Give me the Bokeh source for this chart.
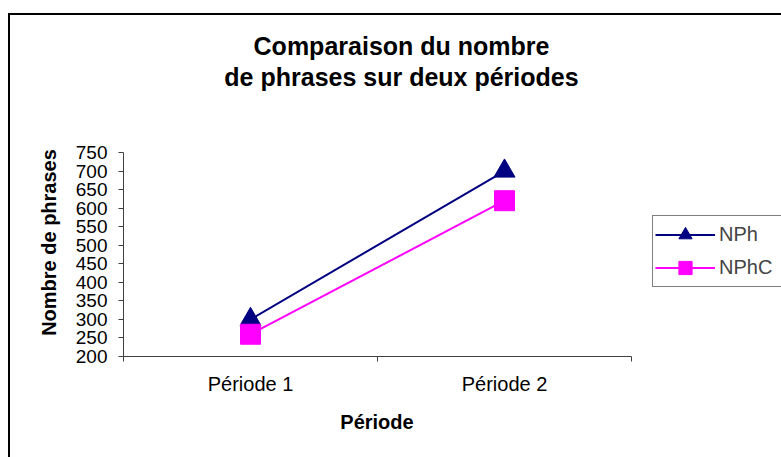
import numpy as np
from bokeh.plotting import figure
from bokeh.models import (Range1d, FixedTicker, Legend, LegendItem, Label,
                          ColumnDataSource, InlineStyleSheet)
from bokeh.embed import file_html
from bokeh.resources import INLINE

# ---- data ----
categories = ["Période 1", "Période 2"]
series_names = ["NPh", "NPhC"]
nph = [300, 700]
nphc = [260, 620]
y_ticks = [200, 250, 300, 350, 400, 450, 500, 550, 600, 650, 700, 750]
title_lines = ["Comparaison du nombre", "de phrases sur deux périodes"]
x_title = "Période"
y_title = "Nombre de phrases"

FONT = "Liberation Sans"
W, H = 781, 457

# plot-area placement on the canvas (pixels)
AX_L, AX_R, AX_T, AX_B = 123, 631, 152, 356
n = len(categories)
ppx = (AX_R - AX_L) / n                                  # px per category
ppy = (AX_B - AX_T) / (y_ticks[-1] - y_ticks[0])         # px per unit
x_range = Range1d(-AX_L / ppx, (W - AX_L) / ppx)
y_range = Range1d(y_ticks[0] - (H - AX_B) / ppy, y_ticks[-1] + AX_T / ppy)

xpos = [i + 0.5 for i in range(n)]
src = ColumnDataSource(dict(x=xpos, nph=nph, nphc=nphc))

p = figure(width=W, height=H, output_backend="svg", toolbar_location=None,
           title=None, x_range=x_range, y_range=y_range,
           min_border=0, min_border_left=0, min_border_right=0,
           min_border_top=0, min_border_bottom=0)
p.outline_line_color = None
p.grid.visible = False
p.background_fill_color = "white"
p.border_fill_color = "white"

# outer chart border (left and top edges visible, rest cut off as in reference)
p.stylesheets = [InlineStyleSheet(css="""
:host::after { content: ''; position: absolute; left: 8px; top: 13px; right: 0px; bottom: 0px;
  border-left: 2px solid black; border-top: 2px solid black; pointer-events: none; z-index: 10; }
""")]

# x axis: labels at category centres, tick marks between categories
xa = p.xaxis[0]
xa.fixed_location = y_ticks[0]
xa.bounds = (0, n)
xa.ticker = FixedTicker(ticks=xpos, minor_ticks=list(range(n + 1)))
xa.major_label_overrides = {x: c for x, c in zip(xpos, categories)}
xa.major_tick_out = 0
xa.major_tick_in = 0
xa.minor_tick_out = 5
xa.minor_tick_in = 0
xa.major_label_standoff = 11
xa.major_label_text_font = FONT
xa.major_label_text_font_size = "20px"
xa.major_label_text_color = "black"
xa.axis_line_color = "#404040"
xa.minor_tick_line_color = "#404040"

# y axis
ya = p.yaxis[0]
ya.fixed_location = 0
ya.bounds = (y_ticks[0], y_ticks[-1])
ya.ticker = FixedTicker(ticks=y_ticks, minor_ticks=[])
ya.major_tick_out = 5
ya.major_tick_in = 0
ya.minor_tick_out = 0
ya.minor_tick_in = 0
ya.major_label_standoff = 11
ya.major_label_text_font = FONT
ya.major_label_text_font_size = "19px"
ya.major_label_text_color = "black"
ya.axis_line_color = "#404040"
ya.major_tick_line_color = "#404040"

# series
navy = "#000080"
magenta = "#FF00FF"
l1 = p.line("x", "nph", source=src, color=navy, line_width=2)
s1 = p.scatter("x", "nph", source=src, marker="triangle", size=21,
               fill_color=navy, line_color=navy)
l2 = p.line("x", "nphc", source=src, color=magenta, line_width=2)
s2 = p.scatter("x", "nphc", source=src, marker="square", size=20,
               fill_color=magenta, line_color=magenta)

legend = Legend(items=[LegendItem(label=series_names[0], renderers=[l1, s1]),
                       LegendItem(label=series_names[1], renderers=[l2, s2])],
                location=(652, H - 287), margin=0, padding=2, spacing=-2,
                glyph_width=60, glyph_height=33, label_standoff=4,
                label_width=78,
                label_text_font=FONT, label_text_font_size="20px",
                border_line_color="black", border_line_width=1,
                background_fill_color="white", background_fill_alpha=1)
p.add_layout(legend)

# titles and axis titles
for txt, yb in zip(title_lines, [45, 76]):
    p.add_layout(Label(x=401, y=H - yb, x_units="screen", y_units="screen",
                       text=txt, text_align="center", text_baseline="alphabetic",
                       text_font=FONT, text_font_size="25px", text_font_style="bold",
                       text_color="black"))
p.add_layout(Label(x=376.5, y=H - 421, x_units="screen", y_units="screen",
                   text=x_title, text_align="center", text_baseline="alphabetic",
                   text_font=FONT, text_font_size="20px", text_font_style="bold",
                   text_color="black"))
p.add_layout(Label(x=48, y=H - 242, x_units="screen", y_units="screen",
                   text=y_title, angle=np.pi / 2, text_align="center",
                   text_baseline="middle", text_font=FONT, text_font_size="20px",
                   text_font_style="bold", text_color="black"))

open("out.html", "w").write(file_html(p, INLINE))
